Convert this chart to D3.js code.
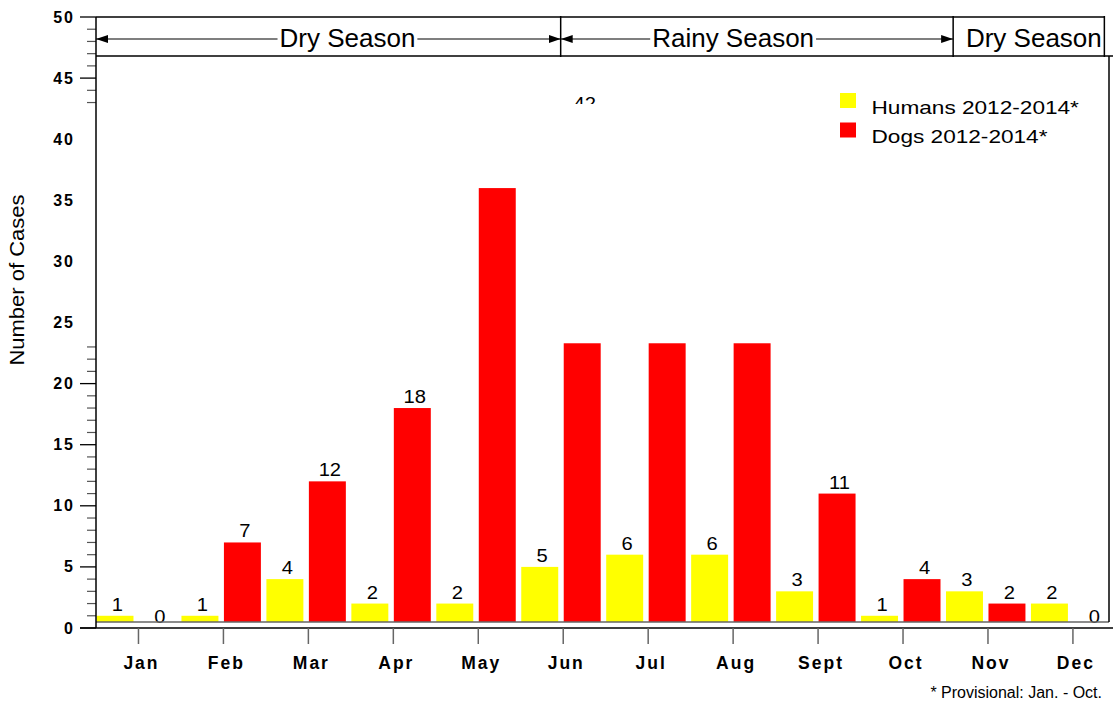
<!DOCTYPE html>
<html>
<head>
<meta charset="utf-8">
<script src="https://cdn.jsdelivr.net/npm/d3@7"></script>
<style>
  body { margin: 0; background: #fff; }
  text { font-family: "Liberation Sans", Arial, sans-serif; fill: #000; }
</style>
</head>
<body>
<svg width="1113" height="704"></svg>
<script>
// data
const months = ['Jan', 'Feb', 'Mar', 'Apr', 'May', 'Jun', 'Jul', 'Aug', 'Sept', 'Oct', 'Nov', 'Dec'];
const series = ['Humans 2012-2014*', 'Dogs 2012-2014*'];
const humans = [1, 1, 4, 2, 2, 5, 6, 6, 3, 1, 3, 2];
// Jun-Aug dog bars are cut off in the original, drawn as they appear
const dogs = [0, 7, 12, 18, 36, 23.3, 23.3, 23.3, 11, 4, 2, 0];
const humanLabels = [1, 1, 4, 2, 2, 5, 6, 6, 3, 1, 3, 2];
const dogLabels = [0, 7, 12, 18, null, 42, null, null, 11, 4, 2, 0];
const yTicks = [0, 5, 10, 15, 20, 25, 30, 35, 40, 45, 50];
// seasons, edges given in month units from the left of the axis
const seasons = [
  { name: 'Dry Season', from: 0, to: 5.47, at: 2.96, arrows: true },
  { name: 'Rainy Season', from: 5.47, to: 10.09, at: 7.5, arrows: true },
  { name: 'Dry Season', from: 10.09, to: 11.87, at: 11.04, arrows: false },
];
const footnote = '* Provisional: Jan. - Oct.';
const colors = ['#ffff00', '#ff0000'];

const svg = d3.select('svg');
const plotL = 96, plotR = 1109, plotT = 17, zeroY = 628, baseY = 622;
const step = 84.95;

const x0 = d3.scaleBand().domain(months).range([plotL, plotL + step * months.length]);
const x1 = d3.scaleBand().domain(series).range([0, step]);
const barW = x1.bandwidth() - 5.5;
const y = d3.scaleLinear().domain([0, 50]).range([zeroY, plotT]);
const monthX = d3.scaleLinear().domain([0, 1]).range([plotL, plotL + step]);

// the region where ticks and labels were lost in the original
const gapTop = 104, gapBottom = y(23.3);

function stretch(sel, k) {
  sel.each(function () {
    const w = this.getComputedTextLength();
    d3.select(this).attr('textLength', w * k).attr('lengthAdjust', 'spacingAndGlyphs');
  });
}

// bars
const rows = months.map((m, i) => ({ m, vals: [humans[i], dogs[i]], labs: [humanLabels[i], dogLabels[i]] }));
const groups = svg.append('g').selectAll('g').data(rows).enter().append('g')
  .attr('transform', d => `translate(${x0(d.m)},0)`);

groups.selectAll('rect')
  .data(d => d.vals.map((v, j) => ({ v, s: series[j], j })))
  .enter().append('rect')
    .attr('x', d => x1(d.s) + 0.5)
    .attr('y', d => Math.min(y(d.v), baseY))
    .attr('width', barW)
    .attr('height', d => Math.max(0, baseY - y(d.v)))
    .attr('fill', d => colors[d.j]);

// value labels, clipped where the original lost them
const defs = svg.append('defs');
const clip = defs.append('clipPath').attr('id', 'labclip');
clip.append('rect').attr('x', 0).attr('y', 0).attr('width', 1113).attr('height', gapTop);
clip.append('rect').attr('x', 0).attr('y', gapBottom).attr('width', 1113).attr('height', 704 - gapBottom);

const labG = svg.append('g').attr('clip-path', 'url(#labclip)');
rows.forEach(r => {
  r.labs.forEach((v, j) => {
    if (v === null) return;
    labG.append('text')
      .attr('x', x0(r.m) + x1(series[j]) + 0.5 + barW / 2 + 2.5)
      .attr('y', y(v) - 5)
      .attr('text-anchor', 'middle')
      .attr('font-size', 18)
      .text(v)
      .call(stretch, 1.12);
  });
});

// grey baseline under bars, white gap, then axis
svg.append('line').attr('x1', plotL).attr('x2', plotR).attr('y1', baseY).attr('y2', baseY)
  .attr('stroke', '#666').attr('stroke-width', 1.6);
svg.append('line').attr('x1', plotL - 16).attr('x2', 1113).attr('y1', zeroY).attr('y2', zeroY)
  .attr('stroke', '#000').attr('stroke-width', 1.5);

// y axis: minor ticks every unit, majors every 5
const minor = d3.range(0, 51).filter(v => v % 5 !== 0 && (y(v) < gapTop || y(v) > gapBottom - 1));
svg.append('g').selectAll('line').data(minor).enter().append('line')
  .attr('x1', plotL - 9).attr('x2', plotL)
  .attr('y1', d => y(d)).attr('y2', d => y(d))
  .attr('stroke', '#555').attr('stroke-width', 1.2);
svg.append('g').selectAll('line').data(yTicks.filter(v => y(v) < gapTop || y(v) > gapBottom)).enter().append('line')
  .attr('x1', plotL - 16).attr('x2', plotL)
  .attr('y1', d => y(d)).attr('y2', d => y(d))
  .attr('stroke', '#000').attr('stroke-width', 1.3);
svg.append('g').selectAll('text').data(yTicks).enter().append('text')
  .attr('x', 75)
  .attr('y', d => y(d) + 5.5)
  .attr('text-anchor', 'end')
  .attr('font-size', 16)
  .attr('font-weight', 'bold')
  .attr('letter-spacing', 2)
  .text(d => d);
svg.append('line').attr('x1', plotL).attr('x2', plotL).attr('y1', plotT).attr('y2', zeroY)
  .attr('stroke', '#000').attr('stroke-width', 1.5);

svg.append('text')
  .attr('transform', 'translate(24,280) rotate(-90)')
  .attr('text-anchor', 'middle')
  .attr('font-size', 20)
  .text('Number of Cases')
  .call(stretch, 1.1);

// x axis ticks and month labels
svg.append('g').selectAll('line').data(months).enter().append('line')
  .attr('x1', d => x0(d) + x1(series[1])).attr('x2', d => x0(d) + x1(series[1]))
  .attr('y1', zeroY).attr('y2', 644)
  .attr('stroke', '#666').attr('stroke-width', 1.5);
svg.append('g').selectAll('text').data(months).enter().append('text')
  .attr('x', d => x0(d) + x1(series[1]) + 3)
  .attr('y', 669)
  .attr('text-anchor', 'middle')
  .attr('font-size', 17.5)
  .attr('font-weight', 'bold')
  .attr('letter-spacing', 2)
  .text(d => d);

// frame and season strip
const frame = svg.append('g').attr('stroke', '#000').attr('stroke-width', 1.5);
frame.append('line').attr('x1', plotL).attr('x2', monthX(11.87)).attr('y1', plotT).attr('y2', plotT);
frame.append('line').attr('x1', plotL).attr('x2', 1113).attr('y1', 56).attr('y2', 56);
frame.append('line').attr('x1', plotR).attr('x2', plotR).attr('y1', 56).attr('y2', baseY);

defs.append('marker').attr('id', 'arr').attr('viewBox', '0 0 12 8')
  .attr('refX', 12).attr('refY', 4).attr('markerWidth', 12).attr('markerHeight', 8)
  .attr('markerUnits', 'userSpaceOnUse').attr('orient', 'auto-start-reverse')
  .append('path').attr('d', 'M0,0L12,4L0,8Z').attr('fill', '#000');

const arrowY = 39;
seasons.forEach(s => {
  const x = monthX(s.to);
  frame.append('line').attr('x1', x).attr('x2', x).attr('y1', plotT - 1).attr('y2', 57);
  const t = svg.append('text')
    .attr('x', monthX(s.at)).attr('y', 46.5)
    .attr('text-anchor', 'middle')
    .attr('font-size', 26)
    .text(s.name);
  if (!s.arrows) return;
  const w = t.node().getComputedTextLength();
  const a = monthX(s.from), b = monthX(s.to);
  svg.append('line').attr('x1', monthX(s.at) - w / 2 - 2).attr('x2', a)
    .attr('y1', arrowY).attr('y2', arrowY)
    .attr('stroke', '#000').attr('stroke-width', 1.2).attr('marker-end', 'url(#arr)');
  svg.append('line').attr('x1', monthX(s.at) + w / 2 + 2).attr('x2', b)
    .attr('y1', arrowY).attr('y2', arrowY)
    .attr('stroke', '#000').attr('stroke-width', 1.2).attr('marker-end', 'url(#arr)');
});

// legend
const legend = svg.append('g').attr('transform', 'translate(840,93)');
series.forEach((s, i) => {
  legend.append('rect').attr('x', 0).attr('y', i * 29.5).attr('width', 16).attr('height', 15)
    .attr('fill', colors[i]);
  legend.append('text').attr('x', 31.5).attr('y', i * 29.5 + 20.5)
    .attr('font-size', 19)
    .text(s)
    .call(stretch, 1.19);
});

svg.append('text')
  .attr('x', 1102).attr('y', 698)
  .attr('text-anchor', 'end')
  .attr('font-size', 16)
  .text(footnote);
</script>
</body>
</html>
